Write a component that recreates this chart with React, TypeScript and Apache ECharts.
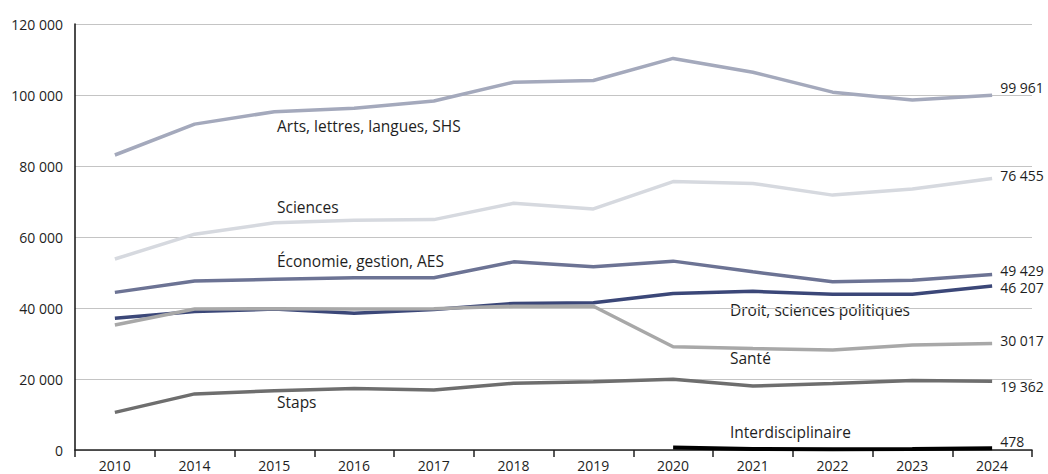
import React, { useEffect, useRef } from "react";
import * as echarts from "echarts";

const years = ["2010", "2014", "2015", "2016", "2017", "2018", "2019", "2020", "2021", "2022", "2023", "2024"];

const arts = [83100, 91800, 95300, 96300, 98300, 103600, 104100, 110300, 106400, 100800, 98600, 99961];
const sciences = [53800, 60800, 64000, 64700, 64900, 69500, 67900, 75600, 75100, 71800, 73500, 76455];
const economie = [44400, 47600, 48100, 48500, 48500, 53000, 51600, 53200, 50200, 47400, 47800, 49429];
const droit = [37100, 39000, 39700, 38500, 39600, 41300, 41500, 44100, 44700, 43900, 43900, 46207];
const sante = [35200, 39700, 39800, 39700, 39800, 40500, 40500, 29100, 28600, 28200, 29600, 30017];
const staps = [10600, 15800, 16700, 17300, 16900, 18800, 19200, 19900, 18000, 18700, 19600, 19362];
const interdisciplinaire = [null, null, null, null, null, null, null, 700, 300, 200, 250, 478];

const yTicks = [0, 20000, 40000, 60000, 80000, 100000, 120000];

const fmt = (v: number) => String(Math.round(v)).replace(/\B(?=(\d{3})+(?!\d))/g, " ");

const FONT = "'Open Sans', sans-serif";
const TXT = "#1e1e1e";

export default function App() {
  const ref = useRef<HTMLDivElement>(null);
  useEffect(() => {
    if (!ref.current) return;
    const chart = echarts.init(ref.current, null, { renderer: "svg" });
    const mk = (name: string, data: (number | null)[], color: string, offset: number[], width = 3.5) => ({
      name,
      type: "line",
      data,
      symbol: "none",
      lineStyle: { color, width },
      itemStyle: { color },
      endLabel: {
        show: true,
        formatter: (p: any) => fmt(p.value),
        color: TXT,
        fontFamily: FONT,
        fontSize: 14,
        distance: 8,
        offset,
      },
      z: name === "Interdisciplinaire" ? 5 : 3,
    });
    const label = (text: string, left: number, top: number) => ({
      type: "text",
      left,
      top,
      style: { text, fill: TXT, font: `15.5px ${FONT}` },
    });
    chart.setOption({
      animation: false,
      textStyle: { fontFamily: FONT },
      grid: { left: 75, right: 16, top: 24, bottom: 24, containLabel: false },
      xAxis: {
        type: "category",
        data: years,
        boundaryGap: true,
        axisLine: { lineStyle: { color: "#222", width: 1.5 } },
        axisTick: { show: true, length: 7, lineStyle: { color: "#222", width: 1.5 } },
        axisLabel: { color: TXT, fontSize: 14, fontFamily: FONT, margin: 8 },
        splitLine: { show: false },
      },
      yAxis: {
        type: "value",
        min: yTicks[0],
        max: yTicks[yTicks.length - 1],
        interval: 20000,
        axisLine: { show: true, lineStyle: { color: "#111", width: 1.5 } },
        axisTick: { show: false },
        axisLabel: { color: TXT, fontSize: 14, fontFamily: FONT, margin: 12, formatter: (v: number) => fmt(v) },
        splitLine: { show: true, lineStyle: { color: "#c4c4c4", width: 1.2 } },
      },
      graphic: [
        label("Arts, lettres, langues, SHS", 277, 118),
        label("Sciences", 277, 199),
        label("Économie, gestion, AES", 277, 253),
        label("Droit, sciences politiques", 730, 302),
        label("Santé", 730, 350),
        label("Staps", 277, 394),
        label("Interdisciplinaire", 730, 424),
      ],
      series: [
        mk("Arts, lettres, langues, SHS", arts, "#a4a9bc", [0, -8]),
        mk("Sciences", sciences, "#d6d9df", [0, -3]),
        mk("Économie, gestion, AES", economie, "#6c7394", [0, -4]),
        mk("Droit, sciences politiques", droit, "#3b4778", [0, 2]),
        mk("Santé", sante, "#a8a8a8", [0, -3]),
        mk("Staps", staps, "#6e6e6e", [0, 5]),
        mk("Interdisciplinaire", interdisciplinaire, "#000000", [0, -7], 4),
      ],
    });
    return () => chart.dispose();
  }, []);
  return <div ref={ref} style={{ position: "absolute", left: 0, top: 0, width: 1048, height: 474 }} />;
}
